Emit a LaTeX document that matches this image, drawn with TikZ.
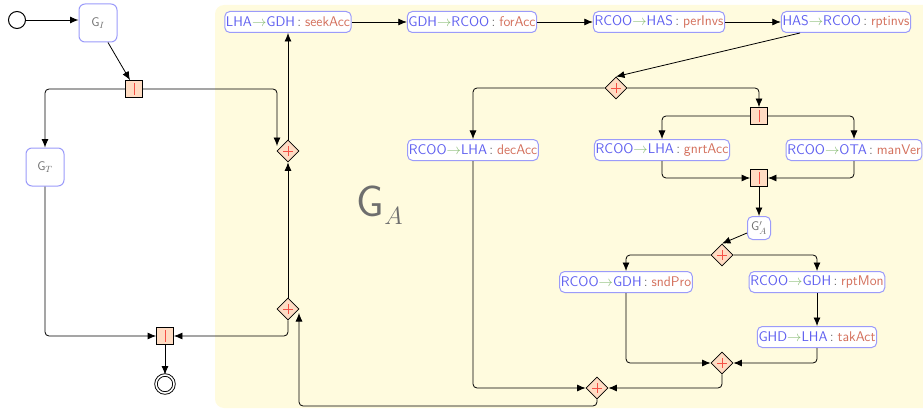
\documentclass[tikz,border=0pt]{standalone}
\usetikzlibrary{arrows.meta,shapes.geometric}
\definecolor{bgy}{RGB}{255,251,222}
\definecolor{ent}{RGB}{95,95,240}
\definecolor{arrc}{RGB}{140,190,120}
\definecolor{actc}{RGB}{212,112,92}
\definecolor{bord}{RGB}{155,155,250}
\definecolor{gfill}{RGB}{255,220,195}
\definecolor{glab}{RGB}{110,110,110}
\definecolor{gmark}{RGB}{245,80,70}
\newcommand{\msgtxt}[3]{\textcolor{ent}{#1}\textcolor{arrc}{$\rightarrow$}\textcolor{ent}{#2}\,\textcolor{glab}{:}\;\textcolor{actc}{#3}}
\begin{document}
\begin{tikzpicture}[x=1pt,y=-1pt,
  font=\sffamily\fontsize{14}{16}\selectfont,
  msgbox/.style={draw=bord, line width=1pt, rounded corners=5pt, fill=white, inner xsep=1.2pt, inner ysep=0pt, minimum height=21pt},
  goalbox/.style={draw=bord, line width=1pt, rounded corners=6pt, fill=white, minimum size=38pt, inner sep=0pt, text=glab, font=\sffamily\fontsize{12.5}{14}\selectfont},
  pgate/.style={draw=black, fill=gfill, minimum size=17pt, inner sep=0pt, line width=0.8pt,
    path picture={\draw[gmark, line width=0.8pt] (path picture bounding box.center) ++(0,-6) -- ++(0,12);}},
  xgate/.style={diamond, draw=black, fill=gfill, minimum size=22pt, inner sep=0pt, line width=0.8pt,
    path picture={\draw[gmark, line width=0.6pt] (path picture bounding box.center) ++(-5,0) -- ++(10,0) (path picture bounding box.center) ++(0,-5) -- ++(0,10);}},
  startev/.style={circle, draw=black, line width=1pt, minimum size=17pt, inner sep=0pt},
  endev/.style={circle, draw=black, double, double distance=1.6pt, line width=0.9pt, minimum size=18pt, inner sep=0pt},
  conn/.style={draw=black, line width=0.8pt, -{Latex[length=8.5pt,width=7pt]}, rounded corners=4pt}
]
\useasboundingbox (0,0) rectangle (923,409);
\begin{scope}
\clip (0,0) rectangle (923,409);
\fill[bgy, rounded corners=9pt] (215,5) rectangle (940,408);
\end{scope}

\node[text=glab, font=\sffamily\fontsize{44}{48}\selectfont] (galab) at (380,205) {G$_A$};

% left part
\node[startev] (s) at (17,20) {};
\node[goalbox] (gi) at (98,23) {G$_I$};
\node[pgate] (g1) at (134,89) {};
\node[goalbox] (gt) at (45,167) {G$_T$};
\node[pgate] (g2) at (165,336) {};
\node[endev] (e) at (165,384) {};
\node[xgate] (d1) at (288,151) {};
\node[xgate] (d2) at (288,309) {};
\coordinate (d1in) at (277,146);
\coordinate (d2in) at (299,313);
\coordinate (lp) at (299,406);

% top row
\node[msgbox] (m1) at (288,22) {\msgtxt{LHA}{GDH}{seekAcc}};
\node[msgbox] (m2) at (472,22) {\msgtxt{GDH}{RCOO}{forAcc}};
\node[msgbox] (m3) at (659,22) {\msgtxt{RCOO}{HAS}{perInvs}};
\node[msgbox] (m4) at (846,22) {\msgtxt{HAS}{RCOO}{rptinvs}};

\node[xgate] (d3) at (616,88) {};
\node[pgate] (g3) at (759,116) {};
\node[msgbox] (m5) at (473,150) {\msgtxt{RCOO}{LHA}{decAcc}};
\node[msgbox] (m6) at (662,150) {\msgtxt{RCOO}{LHA}{gnrtAcc}};
\node[msgbox] (m7) at (854,150) {\msgtxt{RCOO}{OTA}{manVer}};
\node[pgate] (g4) at (759,178) {};
\node[goalbox, minimum size=23pt, rounded corners=5pt] (ga) at (759,228) {G$'_A$};
\node[xgate] (d4) at (722,255) {};
\node[msgbox] (m8) at (626,282) {\msgtxt{RCOO}{GDH}{sndPro}};
\node[msgbox] (m9) at (817,282) {\msgtxt{RCOO}{GDH}{rptMon}};
\node[msgbox] (m10) at (817,337) {\msgtxt{GHD}{LHA}{takAct}};
\node[xgate] (d5) at (722,363) {};
\node[xgate] (d6) at (597,388) {};

% connectors
\draw[conn] (s) -- (s -| gi.west);
\draw[conn] ([xshift=10pt]gi.south) -- ([xshift=-4pt]g1.north);
\draw[conn] (g1.west) -| (gt.north);
\draw[conn] (g1.east) -| (d1in);
\draw[conn] (d2.north) -- (d1.south);
\draw[conn] (d1.north) -- (m1.south);
\draw[conn] (d2.south) |- (g2.east);
\draw[conn] (gt.south) |- (g2.west);
\draw[conn] (g2.south) -- (e.north);
\draw[conn] (m1) -- (m2);
\draw[conn] (m2) -- (m3);
\draw[conn] (m3) -- (m4);
\draw[conn] ([xshift=-46pt]m4.south) -- (d3.north);
\draw[conn] (d3.west) -| (m5.north);
\draw[conn] (d3.east) -| (g3.north);
\draw[conn] (g3.west) -| (m6.north);
\draw[conn] (g3.east) -| (m7.north);
\draw[conn] (m6.south) |- (g4.west);
\draw[conn] (m7.south) |- (g4.east);
\draw[conn] (g4.south) -- (ga.north);
\draw[conn] ([yshift=-5pt]ga.west) -- (d4.north);
\draw[conn] (d4.west) -| (m8.north);
\draw[conn] (d4.east) -| (m9.north);
\draw[conn] (m9) -- (m10);
\draw[conn] (m8.south) |- (d5.west);
\draw[conn] (m10.south) |- (d5.east);
\draw[conn] (d5.south) |- (d6.east);
\draw[conn] (m5.south) |- (d6.west);
\draw[conn] (d6.south) |- (lp) -- (d2in);
\end{tikzpicture}
\end{document}
